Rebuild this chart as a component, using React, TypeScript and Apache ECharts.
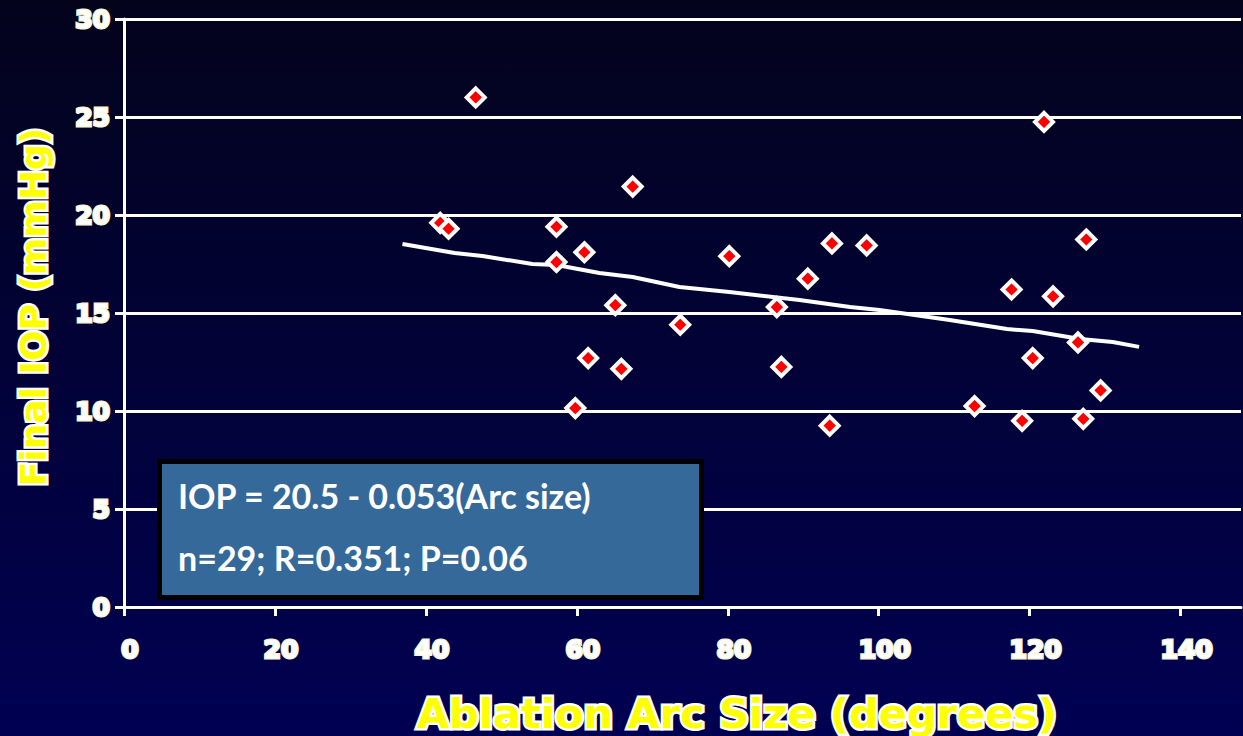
import React, { useEffect, useRef } from "react";
import * as echarts from "echarts";

// Scatter data: ablation arc size (degrees) vs final IOP (mmHg)
const arcSize = [41.9, 43.0, 46.6, 57.3, 57.3, 61.0, 61.5, 59.8, 65.1, 65.9, 67.4, 73.7, 80.2, 86.5, 87.1, 90.6, 93.5, 93.8, 98.4, 112.7, 117.6, 119.0, 120.4, 121.9, 123.1, 126.4, 127.1, 127.5, 129.4];
const finalIOP = [19.6, 19.3, 26.0, 19.4, 17.6, 18.1, 12.7, 10.15, 15.4, 12.15, 21.45, 14.4, 17.9, 15.3, 12.25, 16.75, 9.25, 18.55, 18.45, 10.25, 16.2, 9.5, 12.7, 24.75, 15.85, 13.5, 9.6, 18.75, 11.05];

// Trend line as drawn in the picture
const trendX = [36.9, 43.8, 47.5, 54.1, 57.3, 63.0, 67.4, 73.6, 80.2, 89.5, 96.2, 100.1, 109.4, 117.0, 120.4, 126.7, 131.0, 134.5];
const trendY = [18.52, 18.06, 17.91, 17.5, 17.45, 17.04, 16.84, 16.33, 16.07, 15.66, 15.31, 15.15, 14.64, 14.18, 14.08, 13.67, 13.52, 13.27];

const xTicks = [0, 20, 40, 60, 80, 100, 120, 140];
const yTicks = [0, 5, 10, 15, 20, 25, 30];

const xTitle = "Ablation Arc Size (degrees)";
const yTitle = "Final IOP (mmHg)";
const boxLines = ["IOP = 20.5 - 0.053(Arc size)", "n=29; R=0.351; P=0.06"];

export default function App() {
  const ref = useRef<HTMLDivElement>(null);
  useEffect(() => {
    if (!ref.current) return;
    const chart = echarts.init(ref.current, null, { renderer: "svg" });
    const labelStyle = {
      color: "#ffffff",
      fontFamily: "DejaVu Sans",
      fontWeight: "bold" as const,
      fontSize: 25,
      textBorderColor: "#f6f6d8",
      textBorderWidth: 3,
    };
    chart.setOption({
      animation: false,
      backgroundColor: "transparent",
      grid: { left: 124, right: 2, top: 19, bottom: 129, containLabel: false },
      xAxis: {
        type: "value",
        min: 0,
        max: 148,
        interval: 20,
        axisLine: { show: true, onZero: false, lineStyle: { color: "#ffffff", width: 3 } },
        axisTick: { show: true, length: 9, customValues: xTicks, lineStyle: { color: "#ffffff", width: 3 } },
        axisLabel: { ...labelStyle, margin: 30, padding: [0, 0, 0, 12], customValues: xTicks },
        splitLine: { show: false },
      },
      yAxis: {
        type: "value",
        min: 0,
        max: 30,
        interval: 5,
        axisLine: { show: true, lineStyle: { color: "#ffffff", width: 3 } },
        axisTick: { show: true, length: 9, customValues: yTicks, lineStyle: { color: "#ffffff", width: 3 } },
        axisLabel: { ...labelStyle, margin: 14, customValues: yTicks },
        splitLine: { show: true, lineStyle: { color: "#ffffff", width: 3 } },
      },
      series: [
        {
          type: "line",
          data: trendX.map((x, i) => [x, trendY[i]]),
          showSymbol: false,
          symbol: "none",
          lineStyle: { color: "#ffffff", width: 4 },
          z: 2,
        },
        {
          type: "scatter",
          data: arcSize.map((x, i) => [x, finalIOP[i]]),
          symbol: "diamond",
          symbolSize: 18,
          itemStyle: { color: "#ff0000", borderColor: "#ffffff", borderWidth: 4, opacity: 1 },
          z: 3,
        },
      ],
      graphic: [
        {
          type: "rect",
          shape: { x: 159.5, y: 461.5, width: 542, height: 136 },
          style: { fill: "#35699a", stroke: "#000000", lineWidth: 5 },
          z: 10,
        },
        {
          type: "text",
          x: 178,
          y: 495,
          style: { text: boxLines[0], fill: "#ffffff", font: 'bold 34px "Lato"', textAlign: "left", textVerticalAlign: "middle" },
          z: 11,
        },
        {
          type: "text",
          x: 178,
          y: 557,
          style: { text: boxLines[1], fill: "#ffffff", font: 'bold 34px "Lato"', textAlign: "left", textVerticalAlign: "middle" },
          z: 11,
        },
        {
          type: "text",
          x: 737,
          y: 713,
          style: { text: xTitle, fill: "#ffff00", stroke: "#ffffff", lineWidth: 5, font: 'bold 41.5px "DejaVu Sans"', textAlign: "center", textVerticalAlign: "middle" },
          z: 11,
        },
        {
          type: "text",
          x: 33,
          y: 307,
          rotation: Math.PI / 2,
          style: { text: yTitle, fill: "#ffff00", stroke: "#ffffff", lineWidth: 5, font: 'bold 36px "DejaVu Sans"', textAlign: "center", textVerticalAlign: "middle" },
          z: 11,
        },
      ],
    });
    return () => chart.dispose();
  }, []);
  return (
    <div
      style={{
        position: "fixed",
        left: 0,
        top: 0,
        width: 1243,
        height: 736,
        background: "linear-gradient(to bottom, #03031c 0%, #020238 50%, #000052 100%)",
      }}
    >
      <div ref={ref} style={{ width: 1243, height: 736 }} />
    </div>
  );
}
